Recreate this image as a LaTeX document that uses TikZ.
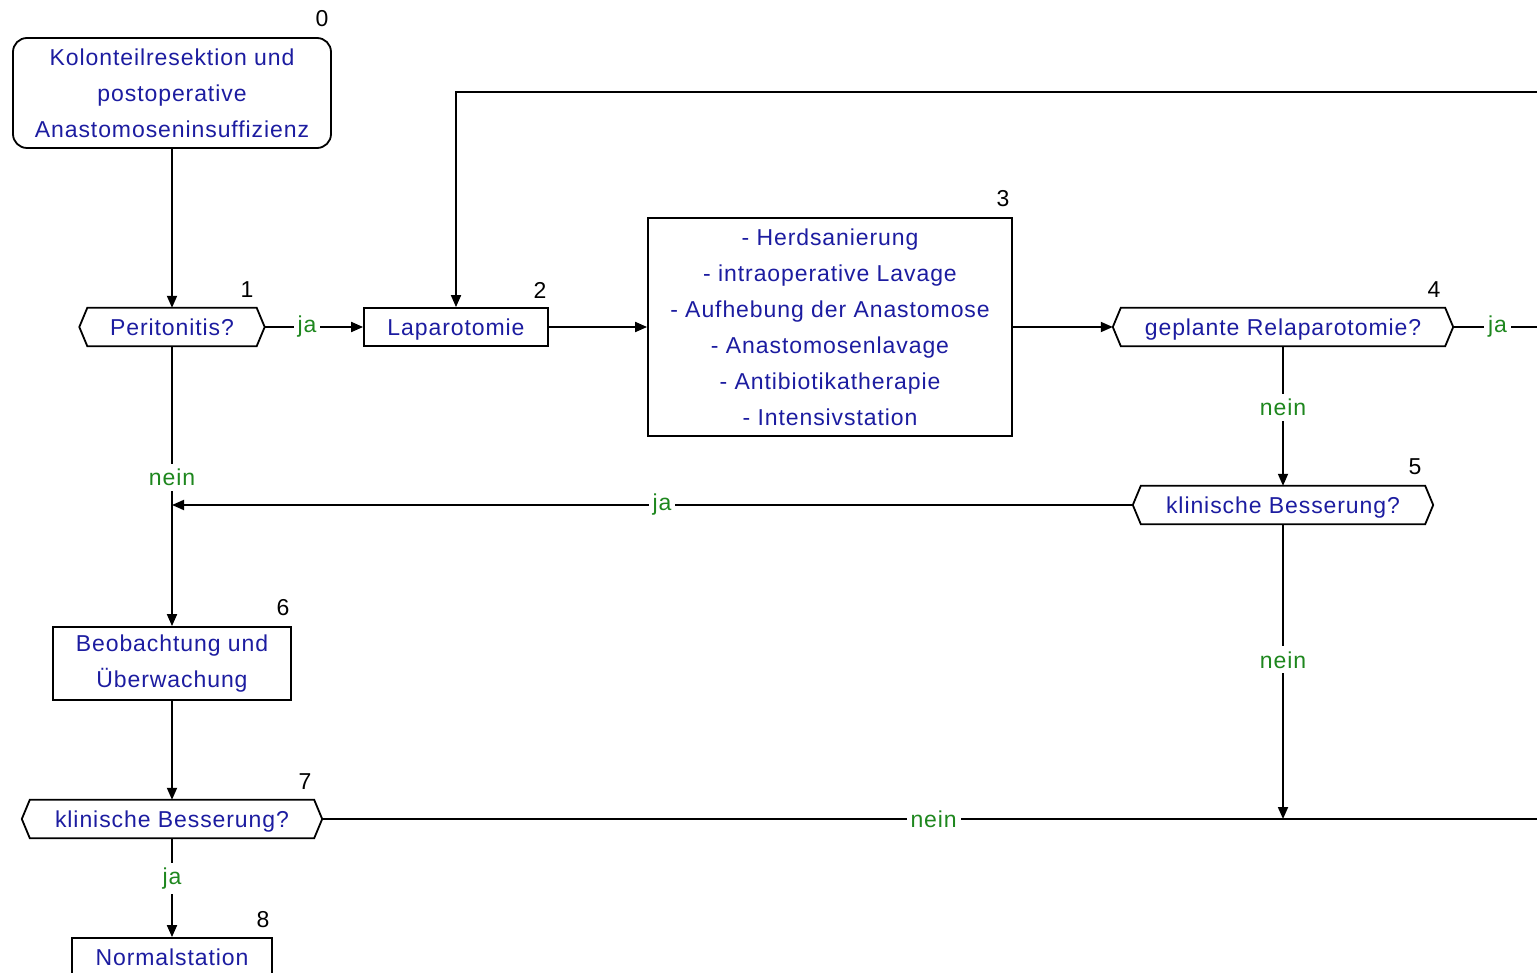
\documentclass[tikz,border=0pt]{standalone}
\usepackage{fontspec}
\setmainfont{Liberation Sans}[LetterSpace=4]
\usetikzlibrary{arrows.meta,positioning}

\begin{document}
\begin{tikzpicture}[x=1pt,y=-1pt,
  every node/.style={font=\fontsize{23}{36}\selectfont, inner sep=0pt},
  box/.style={draw, line width=1.8pt, text=textblue, align=center},
  decision/.style={text=textblue, minimum height=38pt},
  oneline/.style={text height=20.5pt, text depth=4pt},
  num/.style={text=black},
  lbl/.style={text=labelgreen, fill=white, inner xsep=4pt, inner ysep=5pt},
  line/.style={line width=1.8pt},
  arr/.style={line width=1.8pt, -{Triangle[length=12pt,width=10pt]}}]

\definecolor{textblue}{RGB}{28,28,160}
\definecolor{labelgreen}{RGB}{30,135,30}

\clip (0,0) rectangle (1537,973);

\node [box, rounded corners=14pt, minimum width=318pt, minimum height=110pt] (start) at (172,93) {Kolonteilresektion und\\postoperative\\Anastomoseninsuffizienz};
\node [decision, oneline, minimum width=185pt] (peri) at (172,327) {Peritonitis?};
\node [box, oneline, minimum width=184pt, minimum height=38pt] (lapa) at (456,327) {Laparotomie};
\node [box, minimum width=364pt, minimum height=218pt] (mass) at (830,327) {- Herdsanierung\\- intraoperative Lavage\\- Aufhebung der Anastomose\\- Anastomosenlavage\\- Antibiotikatherapie\\- Intensivstation};
\node [decision, oneline, minimum width=340pt] (relap) at (1283,327) {geplante Relaparotomie?};
\node [decision, oneline, minimum width=300pt] (bess1) at (1283,505) {klinische Besserung?};
\node [box, minimum width=238pt, minimum height=73pt] (beob) at (172,663.5) {Beobachtung und\\Überwachung};
\node [decision, oneline, minimum width=300pt] (bess2) at (172,819) {klinische Besserung?};
\node [box, oneline, minimum width=200pt, minimum height=38pt] (normal) at (172,957) {Normalstation};

% hexagon outlines of the questions
\foreach \n in {peri,relap,bess1,bess2}
  \draw [line] (\n.west) -- ([xshift=8pt]\n.north west) -- ([xshift=-8pt]\n.north east) -- (\n.east)
    -- ([xshift=-8pt]\n.south east) -- ([xshift=8pt]\n.south west) -- cycle;

\node [num] (n0) at (322,19) {0};
\node [num] (n1) at (247,290) {1};
\node [num] (n2) at (540,290) {2};
\node [num] (n3) at (1003,199) {3};
\node [num] (n4) at (1434,290) {4};
\node [num] (n5) at (1415,467) {5};
\node [num] (n6) at (283,608) {6};
\node [num] (n7) at (305,782) {7};
\node [num] (n8) at (263,920) {8};

\coordinate (back) at (1570,327);
\coordinate (top) at (1570,92);
\coordinate (right) at (1570,819);
\coordinate (join) at (172,505);
\coordinate (drop) at (1283,819);

\draw [arr] (start) -- (peri);
\draw [arr] (peri.east) -- node [lbl, pos=0.43] {ja} (lapa.west);
\draw [arr] (lapa.east) -- (mass.west);
\draw [arr] (mass.east) -- (relap.west);
\draw [arr] (relap.east) -- node [lbl, pos=0.38] {ja} (back) -- (top) -| (lapa.north);
\draw [arr] (relap.south) -- node [lbl, pos=0.44] {nein} (bess1.north);
\draw [arr] (bess1.west) -- node [lbl, pos=0.49] {ja} (join);
\draw [arr] (peri.south) -- node [lbl, pos=0.47] {nein} (beob.north);
\draw [arr] (beob.south) -- (bess2.north);
\draw [line] (bess2.east) -- node [lbl, pos=0.49] {nein} (right);
\draw [arr] (bess1.south) -- node [lbl, pos=0.46] {nein} (drop);
\draw [arr] (bess2.south) -- node [lbl, pos=0.41] {ja} (normal.north);

\end{tikzpicture}
\end{document}
